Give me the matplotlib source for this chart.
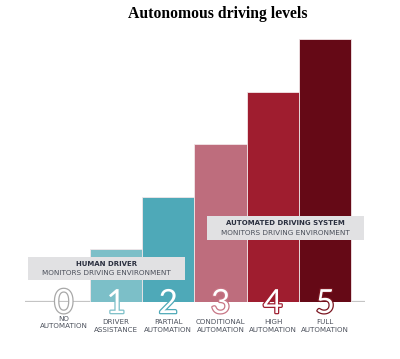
import matplotlib.pyplot as plt
import matplotlib.patheffects as pe
from matplotlib.patches import Rectangle

# chart data
levels = ['0', '1', '2', '3', '4', '5']
heights = [0, 1, 2, 3, 4, 5]
names = ['NO\nAUTOMATION', 'DRIVER\nASSISTANCE', 'PARTIAL\nAUTOMATION',
         'CONDITIONAL\nAUTOMATION', 'HIGH\nAUTOMATION', 'FULL\nAUTOMATION']
colors = ['#ffffff', '#7cbfc8', '#4ea9b8', '#be6d7d', '#9f1d2f', '#650916']
digit_edges = ['#a8a8a8', '#7cbfc8', '#4ea9b8', '#c77585', '#9f1d2f', '#7a1520']
box_human = ['HUMAN DRIVER', 'MONITORS DRIVING ENVIRONMENT']
box_system = ['AUTOMATED DRIVING SYSTEM', 'MONITORS DRIVING ENVIRONMENT']

W, H = 400, 359
fig = plt.figure(figsize=(W / 100, H / 100), dpi=100)

# axes in pixel terms: baseline at y=302, x from 25 to 365
ax = fig.add_axes([25 / W, 57 / H, 340 / W, 272 / H])
ax.set_xlim(-0.74, 5.76)
ax.set_ylim(0, 5 * 272 / 263)
ax.axis('off')

x = list(range(len(levels)))
ax.bar(x, heights, width=1.0, color=colors, edgecolor='#f2e6e8', linewidth=0.6, zorder=2)
ax.axhline(0, xmin=0, xmax=1, color='#c4c4c4', lw=1.6, zorder=1)

for i in x:
    ax.text(i, -0.21, levels[i], ha='center', va='baseline', fontsize=24,
            family='Lato', color='white', zorder=4,
            path_effects=[pe.withStroke(linewidth=1.8, foreground=digit_edges[i])])
    dy = 0.06 if i == 0 else 0.0
    ax.text(i, -0.33 + dy, names[i], ha='center', va='top', fontsize=5.1,
            family='DejaVu Sans', color='#4c515c', linespacing=1.25, zorder=4,
            clip_on=False)

# label boxes
ax.add_patch(Rectangle((-0.68, 0.418), 3.0, 0.438, facecolor='#e1e1e3',
                       edgecolor='none', zorder=3, clip_on=False))
ax.text(0.82, 0.72, box_human[0], ha='center', va='center', fontsize=5.0,
        fontweight='bold', color='#2b3040', zorder=5)
ax.text(0.82, 0.55, box_human[1], ha='center', va='center', fontsize=5.2,
        color='#4a4f5a', zorder=5)

ax.add_patch(Rectangle((2.74, 1.18), 3.0, 0.455, facecolor='#e1e1e3',
                       edgecolor='none', zorder=3, clip_on=False))
ax.text(4.24, 1.50, box_system[0], ha='center', va='center', fontsize=5.0,
        fontweight='bold', color='#2b3040', zorder=5)
ax.text(4.24, 1.32, box_system[1], ha='center', va='center', fontsize=5.2,
        color='#4a4f5a', zorder=5)

fig.text(218 / W, 1 - 14 / H, 'Autonomous driving levels', ha='center', va='center',
         fontsize=11.3, fontweight='bold', family='Liberation Serif')

fig.savefig('out.png', dpi=100)
